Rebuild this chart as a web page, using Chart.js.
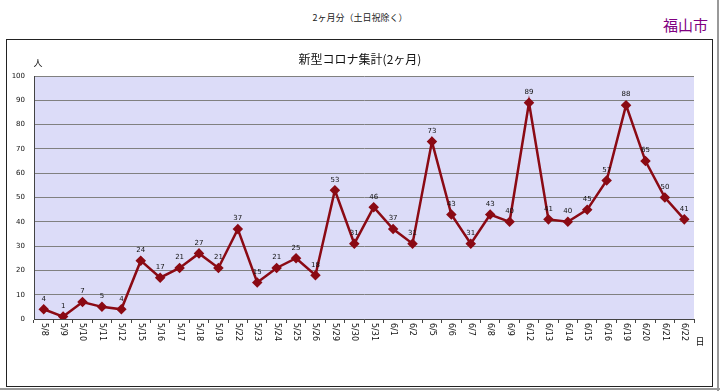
<!DOCTYPE html>
<html>
<head>
<meta charset="utf-8">
<script src="https://cdn.jsdelivr.net/npm/chart.js@4"></script>
<style>
  body { margin: 0; background: #fff; font-family: "Noto Sans CJK JP", sans-serif; }
  #wrap { position: relative; width: 720px; height: 391px; overflow: hidden; }
  #frame { position: absolute; left: 6px; top: 39px; width: 705px; height: 346px; border: 1px solid #222; }
  #shadowR { position: absolute; left: 717px; top: 0; width: 2px; height: 391px; background: #999; }
  #shadowB { position: absolute; left: 0; top: 388px; width: 720px; height: 2px; background: #999; }
  .txt { position: absolute; white-space: nowrap; }
  canvas { position: absolute; left: 0; top: 0; }
</style>
</head>
<body>
<div id="wrap">
  <div id="frame"></div>
  <div id="shadowR"></div>
  <div id="shadowB"></div>
  <div class="txt" style="left:0;width:720px;text-align:center;top:11px;font-size:9px;color:#222;">2ヶ月分（土日祝除く）</div>
  <div class="txt" style="left:663px;top:14px;font-size:15px;color:#800080;">福山市</div>
  <canvas id="chart" width="720" height="391"></canvas>
</div>
<script>
const dates = ["5/8","5/9","5/10","5/11","5/12","5/15","5/16","5/17","5/18","5/19",
  "5/22","5/23","5/24","5/25","5/26","5/29","5/30","5/31","6/1","6/2",
  "6/5","6/6","6/7","6/8","6/9","6/12","6/13","6/14","6/15","6/16",
  "6/19","6/20","6/21","6/22"];
const cases = [4,1,7,5,4,24,17,21,27,21,
  37,15,21,25,18,53,31,46,37,31,
  73,43,31,43,40,89,41,40,45,57,
  88,65,50,41];
const chartTitle = "新型コロナ集計(2ヶ月)";
const yUnit = "人";
const xUnit = "日";

// labels, value tags, plot background and unit text
const extras = {
  id: "extras",
  beforeDraw(chart) {
    const a = chart.chartArea, ctx = chart.ctx;
    ctx.save();
    ctx.fillStyle = "#dcdcf8";
    ctx.fillRect(a.left, a.top, a.right - a.left, a.bottom - a.top);
    ctx.restore();
  },
  afterDraw(chart) {
    const ctx = chart.ctx, a = chart.chartArea;
    const xs = chart.scales.x;
    ctx.save();
    ctx.fillStyle = "#111";
    ctx.font = "12px 'Noto Sans CJK JP'";
    ctx.textAlign = "center";
    ctx.textBaseline = "middle";
    ctx.fillText(chartTitle, 360, 59);
    ctx.font = "9px 'Noto Sans CJK JP'";
    ctx.fillText(yUnit, 38, 63);
    ctx.fillText(xUnit, 700, 342);

    ctx.font = "8px 'DejaVu Sans'";
    ctx.textAlign = "left";
    dates.forEach((d, i) => {
      const x = xs.getPixelForTick(i);
      ctx.save();
      ctx.translate(x, a.bottom + 4);
      ctx.rotate(Math.PI / 2);
      ctx.fillText(d, 0, 0);
      ctx.restore();
    });

    const meta = chart.getDatasetMeta(0);
    ctx.font = "7px 'DejaVu Sans'";
    ctx.textAlign = "center";
    ctx.textBaseline = "bottom";
    meta.data.forEach((pt, i) => {
      ctx.fillText(String(cases[i]), pt.x, pt.y - 7);
    });
    ctx.restore();
  }
};

new Chart(document.getElementById("chart"), {
  type: "line",
  data: {
    labels: dates,
    datasets: [{
      data: cases,
      borderColor: "#8b0a14",
      backgroundColor: "#8b0a14",
      borderWidth: 2.5,
      pointStyle: "rectRot",
      pointRadius: 3.5,
      tension: 0
    }]
  },
  options: {
    responsive: false,
    animation: false,
    layout: { padding: { top: 76, right: 26, left: 0, bottom: 0 } },
    plugins: { legend: { display: false }, tooltip: { enabled: false } },
    scales: {
      x: {
        offset: true,
        grid: { offset: true, drawOnChartArea: false, tickLength: 4, color: "#444" },
        border: { color: "#444" },
        ticks: { display: false },
        afterFit(s) { s.height = 72; }
      },
      y: {
        min: 0, max: 100,
        ticks: { stepSize: 10, color: "#111", font: { size: 7, family: "DejaVu Sans" }, padding: 9 },
        grid: { color: "#808080", tickLength: 0 },
        border: { color: "#444" },
        afterFit(s) { s.width = 34; }
      }
    }
  },
  plugins: [extras]
});
</script>
</body>
</html>
